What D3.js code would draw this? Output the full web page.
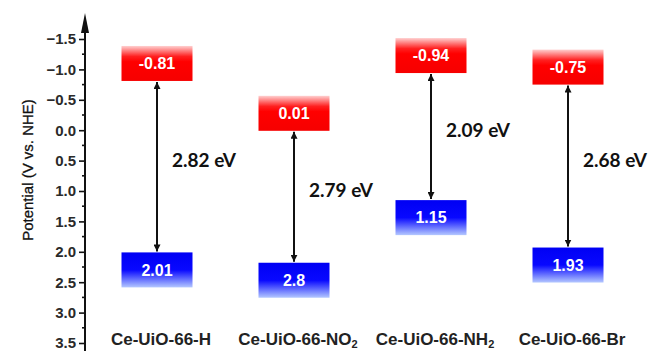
<!DOCTYPE html>
<html>
<head>
<meta charset="utf-8">
<script src="https://cdn.jsdelivr.net/npm/d3@7"></script>
<style>
  body { margin: 0; background: #fff; }
  svg { display: block; }
</style>
</head>
<body>
<div id="chart"></div>
<script>
var width = 648, height = 351;

// data
var categories = ["Ce-UiO-66-H", "Ce-UiO-66-NO2", "Ce-UiO-66-NH2", "Ce-UiO-66-Br"];
var cbValues = [-0.81, 0.01, -0.94, -0.75];
var vbValues = [2.01, 2.8, 1.15, 1.93];
// where the VB boxes sit in the source figure (NO2 one is drawn at ~2.18 V, not 2.8)
var vbLevels = [2.01, 2.18, 1.15, 1.93];
var bandGaps = [2.82, 2.79, 2.09, 2.68];
var yTicks = [-1.5, -1.0, -0.5, 0.0, 0.5, 1.0, 1.5, 2.0, 2.5, 3.0, 3.5];
var yMinorTicks = [-1.25, -0.75, -0.25, 0.25, 0.75, 1.25, 1.75, 2.25, 2.75, 3.25, 3.75];

var axisX = 85,
    boxW = 71, boxH = 35;

var y = d3.scaleLinear().domain([-1.5, 3.5]).range([39, 343]);
var x = d3.scalePoint().domain(categories).range([157, 568]);

var svg = d3.select("#chart").append("svg")
    .attr("width", width)
    .attr("height", height);

var defs = svg.append("defs");

var red = defs.append("linearGradient").attr("id", "redGrad")
    .attr("x1", 0).attr("y1", 0).attr("x2", 0).attr("y2", 1);
red.append("stop").attr("offset", "0%").attr("stop-color", "#ffd0d0");
red.append("stop").attr("offset", "30%").attr("stop-color", "#ff2020");
red.append("stop").attr("offset", "45%").attr("stop-color", "#ff0000");
red.append("stop").attr("offset", "100%").attr("stop-color", "#f60000");

var blue = defs.append("linearGradient").attr("id", "blueGrad")
    .attr("x1", 0).attr("y1", 0).attr("x2", 0).attr("y2", 1);
blue.append("stop").attr("offset", "0%").attr("stop-color", "#0000f4");
blue.append("stop").attr("offset", "50%").attr("stop-color", "#0808ff");
blue.append("stop").attr("offset", "100%").attr("stop-color", "#b4c8ff");

defs.append("marker").attr("id", "head")
    .attr("viewBox", "0 0 10 10")
    .attr("refX", 10).attr("refY", 5)
    .attr("markerUnits", "userSpaceOnUse")
    .attr("markerWidth", 7).attr("markerHeight", 7)
    .attr("orient", "auto-start-reverse")
  .append("path")
    .attr("d", "M0,0L10,5L0,10Z")
    .attr("fill", "#111");

// y axis
var yAxis = svg.append("g")
    .attr("transform", "translate(" + axisX + ",0)")
    .call(d3.axisLeft(y).tickValues(yTicks).tickSize(6).tickPadding(3)
      .tickFormat(d3.format(".1f")));
yAxis.select(".domain").remove();
yAxis.selectAll(".tick line").attr("stroke", "#111").attr("stroke-width", 1.6);
yAxis.selectAll(".tick text")
    .attr("fill", "#2a2a2a")
    .style("font-family", "'Liberation Sans', Arial, sans-serif")
    .style("font-weight", "bold")
    .style("font-size", "15px");

yAxis.selectAll(".minor")
    .data(yMinorTicks)
  .enter().append("line")
    .attr("class", "minor")
    .attr("x1", -3).attr("x2", 0)
    .attr("y1", function(d) { return y(d); })
    .attr("y2", function(d) { return y(d); })
    .attr("stroke", "#111").attr("stroke-width", 1.6);

svg.append("line")
    .attr("x1", axisX).attr("x2", axisX)
    .attr("y1", height).attr("y2", 28)
    .attr("stroke", "#111").attr("stroke-width", 2);
svg.append("path")
    .attr("d", "M" + (axisX - 4) + ",33L" + axisX + ",13L" + (axisX + 4) + ",33Z")
    .attr("fill", "#111");

svg.append("text")
    .attr("transform", "translate(33," + 170 + ") rotate(-90)")
    .attr("text-anchor", "middle")
    .attr("fill", "#111")
    .style("font-family", "'Liberation Sans', Arial, sans-serif")
    .style("font-size", "15px")
    .style("stroke", "#111").style("stroke-width", "0.3px")
    .text("Potential (V vs. NHE)");

var data = categories.map(function(c, i) {
  return {cat: c, cb: cbValues[i], vb: vbValues[i], vbLevel: vbLevels[i], gap: bandGaps[i]};
});

var g = svg.selectAll(".level").data(data).enter().append("g").attr("class", "level");

// conduction band boxes
g.append("rect")
    .attr("x", function(d) { return x(d.cat) - boxW / 2; })
    .attr("y", function(d) { return y(d.cb) - boxH; })
    .attr("width", boxW).attr("height", boxH)
    .attr("fill", "url(#redGrad)");

// valence band boxes
g.append("rect")
    .attr("x", function(d) { return x(d.cat) - boxW / 2; })
    .attr("y", function(d) { return y(d.vbLevel); })
    .attr("width", boxW).attr("height", boxH)
    .attr("fill", "url(#blueGrad)");

g.append("text")
    .attr("x", function(d) { return x(d.cat); })
    .attr("y", function(d) { return y(d.cb) - boxH / 2; })
    .attr("dy", "0.36em")
    .attr("text-anchor", "middle")
    .attr("fill", "#fff")
    .style("font-family", "'Liberation Sans', Arial, sans-serif")
    .style("font-weight", "bold")
    .style("font-size", "16px")
    .text(function(d) { return d.cb; });

g.append("text")
    .attr("x", function(d) { return x(d.cat); })
    .attr("y", function(d) { return y(d.vbLevel) + boxH / 2; })
    .attr("dy", "0.36em")
    .attr("text-anchor", "middle")
    .attr("fill", "#fff")
    .style("font-family", "'Liberation Sans', Arial, sans-serif")
    .style("font-weight", "bold")
    .style("font-size", "16px")
    .text(function(d) { return d.vb; });

// double arrows
g.append("line")
    .attr("x1", function(d) { return x(d.cat); })
    .attr("x2", function(d) { return x(d.cat); })
    .attr("y1", function(d) { return y(d.cb) + 1; })
    .attr("y2", function(d) { return y(d.vbLevel) - 1; })
    .attr("stroke", "#111").attr("stroke-width", 2)
    .attr("marker-start", "url(#head)")
    .attr("marker-end", "url(#head)");

g.append("text")
    .attr("x", function(d) { return x(d.cat) + 15; })
    .attr("y", function(d) { return (y(d.cb) + y(d.vbLevel)) / 2 - 6; })
    .attr("dy", "0.35em")
    .attr("fill", "#111")
    .style("font-family", "Lato, 'Open Sans', sans-serif")
    .style("font-weight", "bold")
    .style("font-size", "19px")
    .text(function(d) { return d.gap.toFixed(2) + " eV"; });

// category labels with subscripts
var lab = g.append("text")
    .attr("x", function(d) { return x(d.cat) + 4; })
    .attr("y", 345)
    .attr("text-anchor", "middle")
    .attr("fill", "#222")
    .style("font-family", "'Liberation Sans', Arial, sans-serif")
    .style("font-weight", "bold")
    .style("font-size", "17px");

lab.each(function(d) {
  var t = d3.select(this);
  var m = d.cat.match(/^(.*?)(\d)$/);
  if (m && /[A-Z]$/.test(m[1])) {
    t.append("tspan").text(m[1]);
    t.append("tspan").attr("dy", 3).style("font-size", "11px").text(m[2]);
  } else {
    t.text(d.cat);
  }
});
</script>
</body>
</html>
